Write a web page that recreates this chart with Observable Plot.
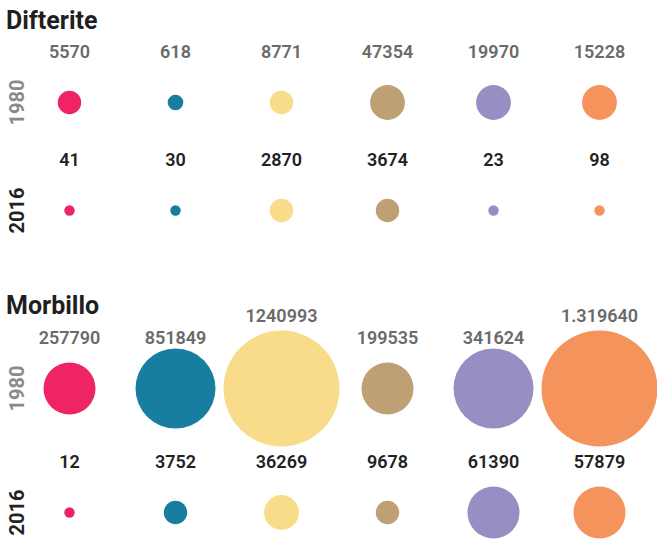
<!DOCTYPE html>
<html>
<head>
<meta charset="utf-8">
<script src="https://cdn.jsdelivr.net/npm/d3@7"></script>
<script src="https://cdn.jsdelivr.net/npm/@observablehq/plot@0.6"></script>
<style>
  html, body { margin: 0; padding: 0; background: #fff; }
  #chart { width: 657px; font-family: Roboto, "Noto Sans", sans-serif; }
  h2 { margin: 0; padding-left: 6px; font-size: 25px; line-height: 25px; font-weight: 700; color: #1f1f1f; }
  #t1 { margin-top: 8px; }
  #t2 { margin-top: 50px; }
  svg { display: block; overflow: visible; }
</style>
</head>
<body>
<div id="chart"></div>
<script>
// Six groups (not labelled in the original), one colour each
const categories = ["G1", "G2", "G3", "G4", "G5", "G6"];
const colors = ["#ee2562", "#187e9f", "#f9dc8a", "#bfa074", "#988ec3", "#f5935c"];
const years = ["1980", "2016"];

// Difterite (diphtheria) cases
const difterite1980 = [5570, 618, 8771, 47354, 19970, 15228];
const difterite2016 = [41, 30, 2870, 3674, 23, 98];
// Morbillo (measles) cases
const morbillo1980 = [257790, 851849, 1240993, 199535, 341624, 1319640];
const morbillo2016 = [12, 3752, 36269, 9678, 61390, 57879];
// label text as printed in the original
const morbillo1980Labels = ["257790", "851849", "1240993", "199535", "341624", "1.319640"];

// binned circle sizes (threshold scale)
const sizeBreaks = [100, 1000, 10000, 50000, 300000, 1000000];
const sizeRadii = [5.2, 7.8, 11.7, 17.4, 26, 40, 58];

const gray = "#6a6a6a", yearGray = "#8a8a8a", dark = "#222";

function rowsOf(v1980, v2016, labels1980) {
  return categories.flatMap((c, i) => [
    {cat: c, year: "1980", value: v1980[i], label: labels1980 ? labels1980[i] : String(v1980[i])},
    {cat: c, year: "2016", value: v2016[i], label: String(v2016[i])}
  ]);
}

function chart(rows, height, marginTop, marginBottom) {
  const labelMarks = years.flatMap(yr => {
    const fill = yr === "1980" ? gray : dark;
    const sub = rows.filter(d => d.year === yr);
    return [
      Plot.text(sub.filter(d => d.value < 1000000), {x: "cat", y: "year", text: "label", dy: -50, fill, fontSize: 18, fontWeight: 600}),
      Plot.text(sub.filter(d => d.value >= 1000000), {x: "cat", y: "year", text: "label", dy: -72, fill, fontSize: 18, fontWeight: 600})
    ];
  });
  return Plot.plot({
    width: 657,
    height,
    marginLeft: 68,
    marginRight: 58,
    marginTop,
    marginBottom,
    style: {fontFamily: "Roboto, 'Noto Sans', sans-serif", overflow: "visible", background: "transparent"},
    x: {type: "point", domain: categories, padding: 0, axis: null},
    y: {type: "point", domain: years, padding: 0, axis: null},
    r: {type: "threshold", domain: sizeBreaks, range: sizeRadii},
    color: {domain: categories, range: colors},
    marks: [
      Plot.dot(rows, {x: "cat", y: "year", r: "value", fill: "cat", stroke: null}),
      ...labelMarks,
      Plot.text(["1980"], {y: d => d, frameAnchor: "left", textAnchor: "middle", lineAnchor: "middle", dx: -51, rotate: -90, fontSize: 20, fontWeight: "bold", fill: yearGray}),
      Plot.text(["2016"], {y: d => d, frameAnchor: "left", textAnchor: "middle", lineAnchor: "middle", dx: -51, rotate: -90, fontSize: 20, fontWeight: "bold", fill: dark})
    ]
  });
}

const root = document.getElementById("chart");
const t1 = document.createElement("h2"); t1.id = "t1"; t1.textContent = "Difterite";
root.appendChild(t1);
root.appendChild(chart(rowsOf(difterite1980, difterite2016), 210, 69, 33));
const t2 = document.createElement("h2"); t2.id = "t2"; t2.textContent = "Morbillo";
root.appendChild(t2);
root.appendChild(chart(rowsOf(morbillo1980, morbillo2016, morbillo1980Labels), 232, 70, 38));
</script>
</body>
</html>
